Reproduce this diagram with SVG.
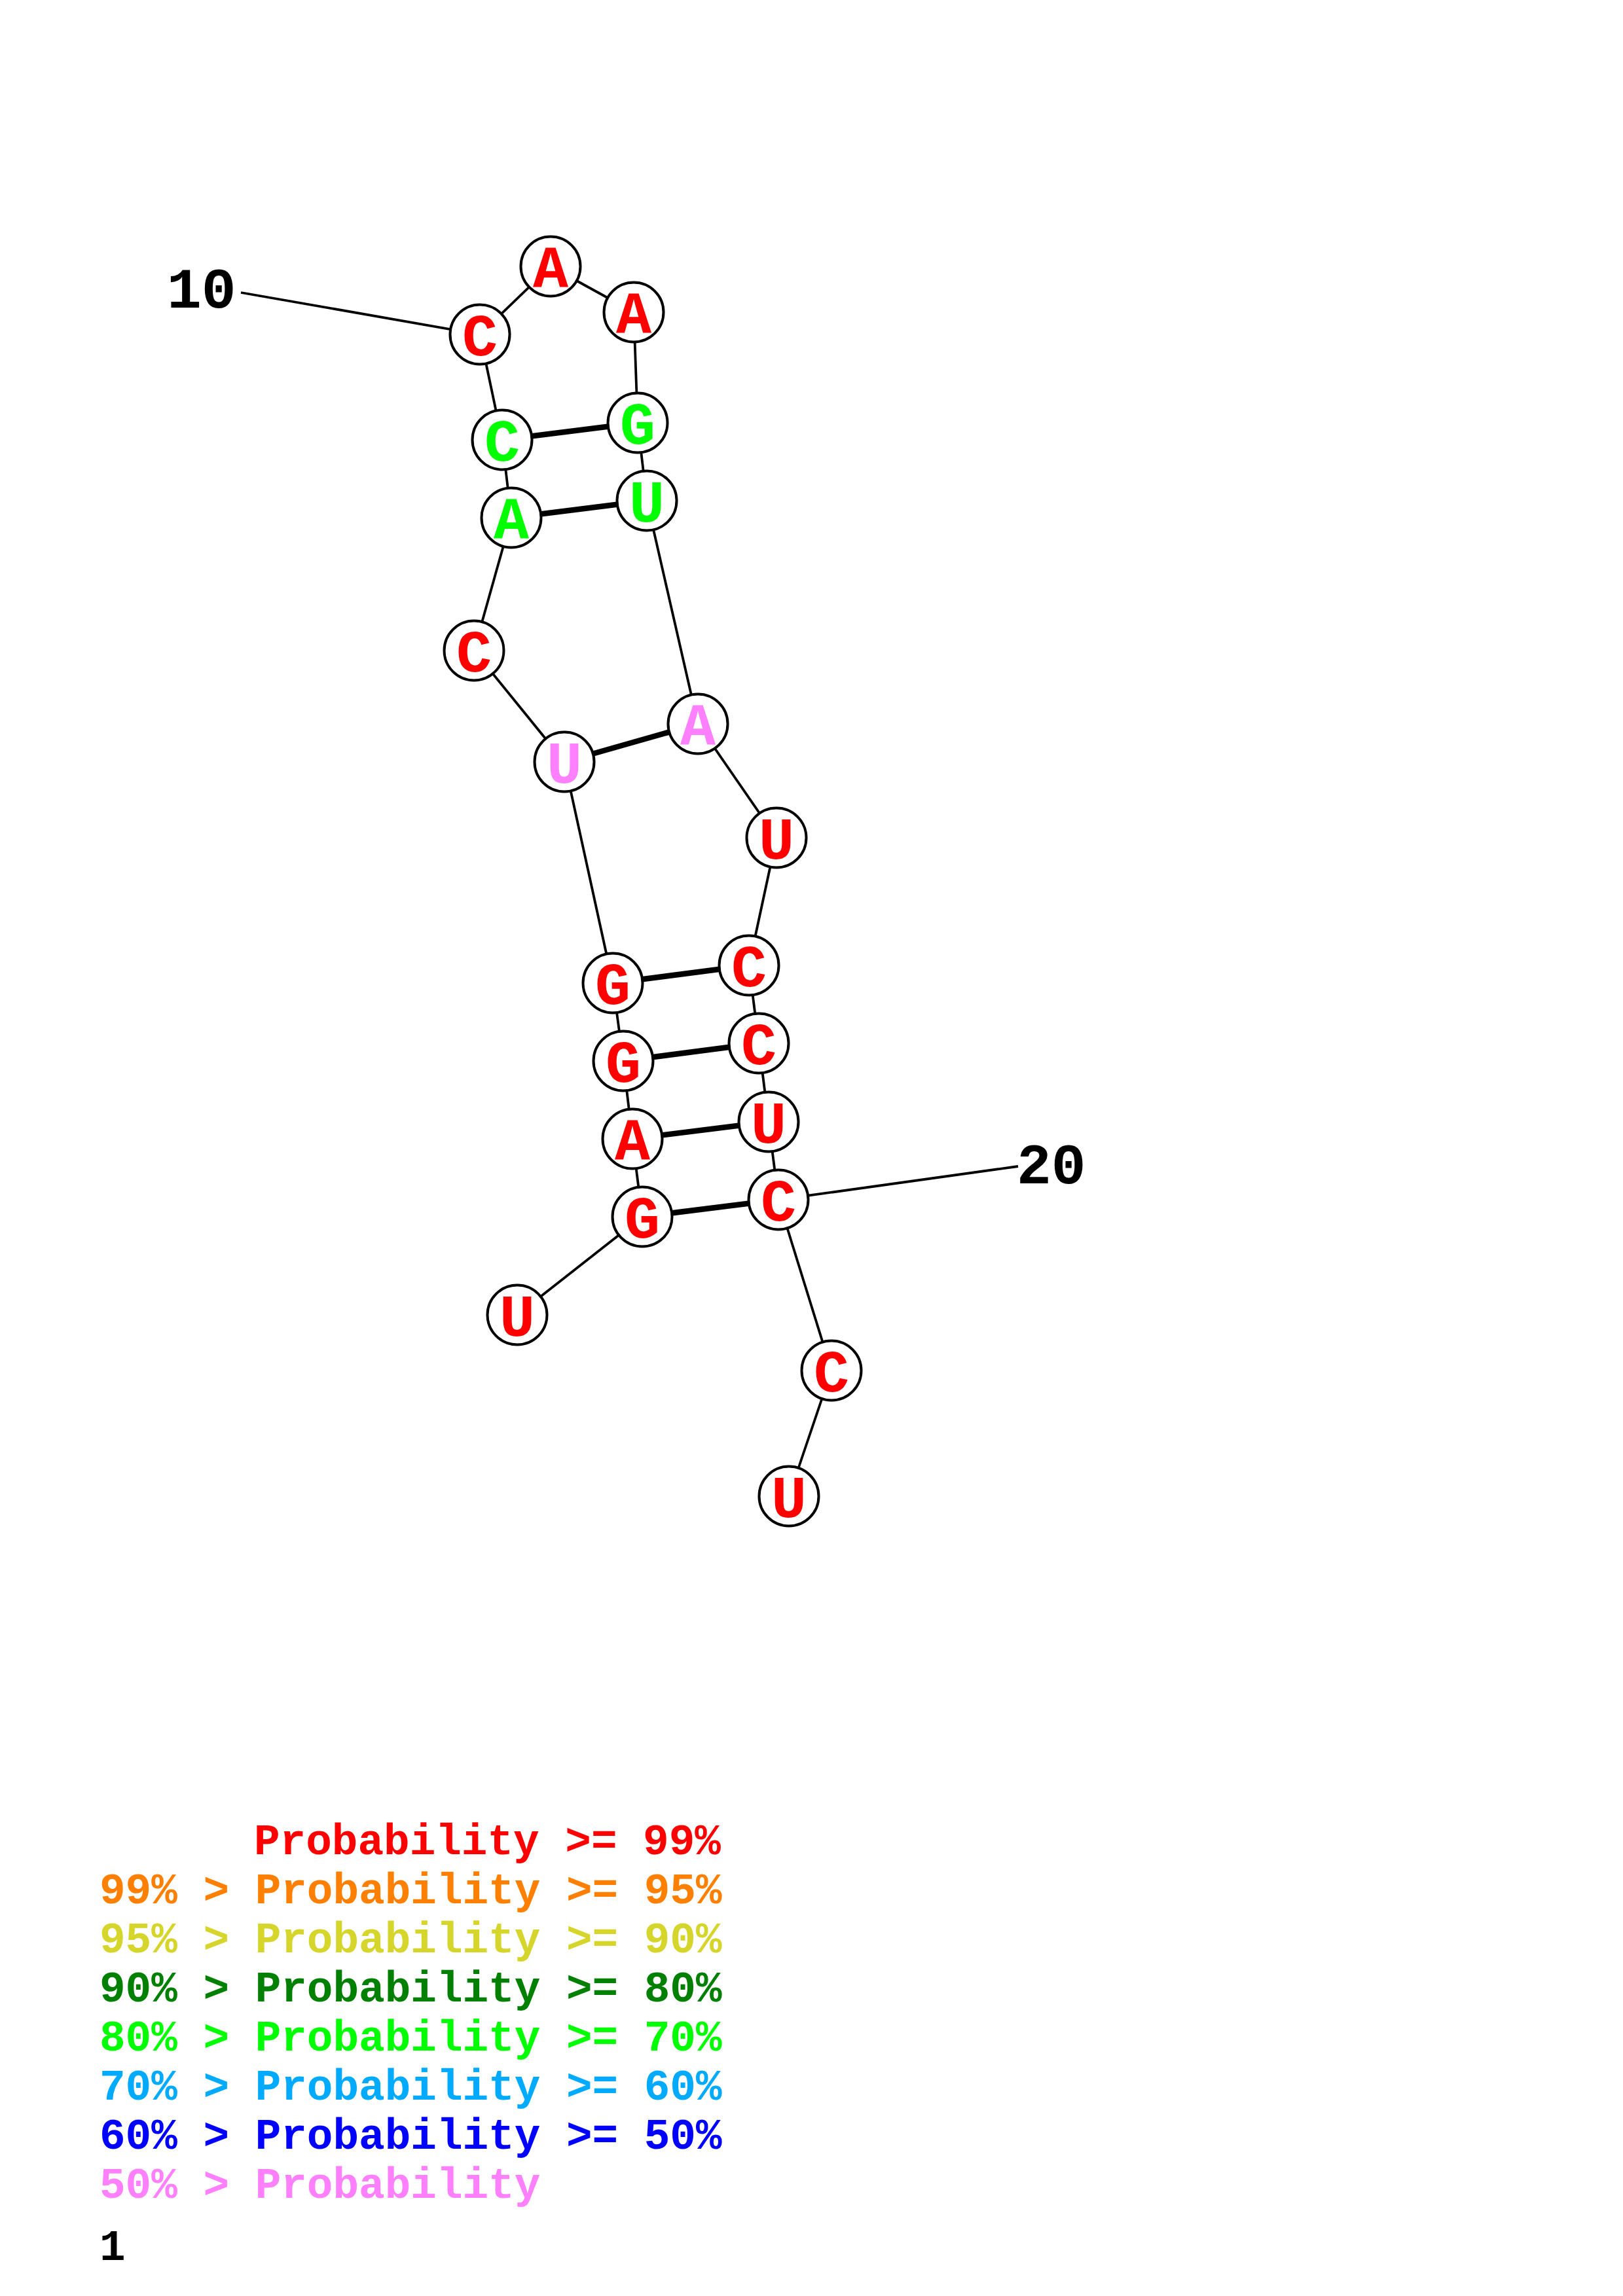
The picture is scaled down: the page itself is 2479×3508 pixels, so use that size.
<svg xmlns="http://www.w3.org/2000/svg" width="2479" height="3508" viewBox="0 0 2479 3508">
<style>
.bb{stroke:#000;stroke-width:3.8;fill:none}
.bp{stroke:#000;stroke-width:8.5;fill:none}
.nc{fill:#fff;stroke:#000;stroke-width:4}
.nt{font-family:"Liberation Mono","Courier New",monospace;font-weight:bold;font-size:90px;text-anchor:middle}
.lb{font-family:"Liberation Mono","Courier New",monospace;font-weight:bold;font-size:88px;fill:#000}
.lg{font-family:"Liberation Mono","Courier New",monospace;font-weight:bold;font-size:66px}
.r{fill:#FF0000}.g{fill:#00FF00}.p{fill:#FF80FF}
</style>
<rect width="2479" height="3508" fill="#fff"/>
<g id="connectors">
<line class="bb" x1="790" y1="2009" x2="981" y2="1859"/>
<line class="bb" x1="981" y1="1859" x2="966" y2="1740"/>
<line class="bb" x1="966" y1="1740" x2="952" y2="1621"/>
<line class="bb" x1="952" y1="1621" x2="936" y2="1502"/>
<line class="bb" x1="936" y1="1502" x2="862" y2="1164"/>
<line class="bb" x1="862" y1="1164" x2="724" y2="994"/>
<line class="bb" x1="724" y1="994" x2="781" y2="791"/>
<line class="bb" x1="781" y1="791" x2="767" y2="672"/>
<line class="bb" x1="767" y1="672" x2="733" y2="511"/>
<line class="bb" x1="733" y1="511" x2="841" y2="407"/>
<line class="bb" x1="841" y1="407" x2="968" y2="477"/>
<line class="bb" x1="968" y1="477" x2="974" y2="646"/>
<line class="bb" x1="974" y1="646" x2="988" y2="765"/>
<line class="bb" x1="988" y1="765" x2="1066" y2="1106"/>
<line class="bb" x1="1066" y1="1106" x2="1186" y2="1280"/>
<line class="bb" x1="1186" y1="1280" x2="1144" y2="1475"/>
<line class="bb" x1="1144" y1="1475" x2="1159" y2="1594"/>
<line class="bb" x1="1159" y1="1594" x2="1174" y2="1714"/>
<line class="bb" x1="1174" y1="1714" x2="1189" y2="1833"/>
<line class="bb" x1="1189" y1="1833" x2="1270" y2="2094"/>
<line class="bb" x1="1270" y1="2094" x2="1205" y2="2286"/>
<line class="bp" x1="981" y1="1859" x2="1189" y2="1833"/>
<line class="bp" x1="966" y1="1740" x2="1174" y2="1714"/>
<line class="bp" x1="952" y1="1621" x2="1159" y2="1594"/>
<line class="bp" x1="936" y1="1502" x2="1144" y2="1475"/>
<line class="bp" x1="862" y1="1164" x2="1066" y2="1106"/>
<line class="bp" x1="781" y1="791" x2="988" y2="765"/>
<line class="bp" x1="767" y1="672" x2="974" y2="646"/>
<line class="bb" x1="733" y1="511" x2="368" y2="447"/>
<line class="bb" x1="1189" y1="1833" x2="1555" y2="1782"/>
</g>
<g id="n1"><circle class="nc" cx="790" cy="2009" r="45.5"/><text class="nt r" x="790" y="2041">U</text></g>
<g id="n2"><circle class="nc" cx="981" cy="1859" r="45.5"/><text class="nt r" x="981" y="1891">G</text></g>
<g id="n3"><circle class="nc" cx="966" cy="1740" r="45.5"/><text class="nt r" x="966" y="1772">A</text></g>
<g id="n4"><circle class="nc" cx="952" cy="1621" r="45.5"/><text class="nt r" x="952" y="1653">G</text></g>
<g id="n5"><circle class="nc" cx="936" cy="1502" r="45.5"/><text class="nt r" x="936" y="1534">G</text></g>
<g id="n6"><circle class="nc" cx="862" cy="1164" r="45.5"/><text class="nt p" x="862" y="1196">U</text></g>
<g id="n7"><circle class="nc" cx="724" cy="994" r="45.5"/><text class="nt r" x="724" y="1026">C</text></g>
<g id="n8"><circle class="nc" cx="781" cy="791" r="45.5"/><text class="nt g" x="781" y="823">A</text></g>
<g id="n9"><circle class="nc" cx="767" cy="672" r="45.5"/><text class="nt g" x="767" y="704">C</text></g>
<g id="n10"><circle class="nc" cx="733" cy="511" r="45.5"/><text class="nt r" x="733" y="543">C</text></g>
<g id="n11"><circle class="nc" cx="841" cy="407" r="45.5"/><text class="nt r" x="841" y="439">A</text></g>
<g id="n12"><circle class="nc" cx="968" cy="477" r="45.5"/><text class="nt r" x="968" y="509">A</text></g>
<g id="n13"><circle class="nc" cx="974" cy="646" r="45.5"/><text class="nt g" x="974" y="678">G</text></g>
<g id="n14"><circle class="nc" cx="988" cy="765" r="45.5"/><text class="nt g" x="988" y="797">U</text></g>
<g id="n15"><circle class="nc" cx="1066" cy="1106" r="45.5"/><text class="nt p" x="1066" y="1138">A</text></g>
<g id="n16"><circle class="nc" cx="1186" cy="1280" r="45.5"/><text class="nt r" x="1186" y="1312">U</text></g>
<g id="n17"><circle class="nc" cx="1144" cy="1475" r="45.5"/><text class="nt r" x="1144" y="1507">C</text></g>
<g id="n18"><circle class="nc" cx="1159" cy="1594" r="45.5"/><text class="nt r" x="1159" y="1626">C</text></g>
<g id="n19"><circle class="nc" cx="1174" cy="1714" r="45.5"/><text class="nt r" x="1174" y="1746">U</text></g>
<g id="n20"><circle class="nc" cx="1189" cy="1833" r="45.5"/><text class="nt r" x="1189" y="1865">C</text></g>
<g id="n21"><circle class="nc" cx="1270" cy="2094" r="45.5"/><text class="nt r" x="1270" y="2126">C</text></g>
<g id="n22"><circle class="nc" cx="1205" cy="2286" r="45.5"/><text class="nt r" x="1205" y="2318">U</text></g>
<g id="labels">
<text class="lb" x="255" y="470">10</text>
<text class="lb" x="1553" y="1808">20</text>
</g>
<g id="legend">
<text class="lg" x="388" y="2833" fill="#FF0000">Probability &gt;= 99%</text>
<text class="lg" x="152" y="2908" fill="#FF8000">99% &gt; Probability &gt;= 95%</text>
<text class="lg" x="152" y="2983" fill="#D5D52B">95% &gt; Probability &gt;= 90%</text>
<text class="lg" x="152" y="3058" fill="#008000">90% &gt; Probability &gt;= 80%</text>
<text class="lg" x="152" y="3133" fill="#00FF00">80% &gt; Probability &gt;= 70%</text>
<text class="lg" x="152" y="3208" fill="#00AAFF">70% &gt; Probability &gt;= 60%</text>
<text class="lg" x="152" y="3283" fill="#0000FF">60% &gt; Probability &gt;= 50%</text>
<text class="lg" x="152" y="3358" fill="#FF80FF">50% &gt; Probability</text>
<text class="lg" x="152" y="3453" fill="#000">1</text>
</g>
</svg>
